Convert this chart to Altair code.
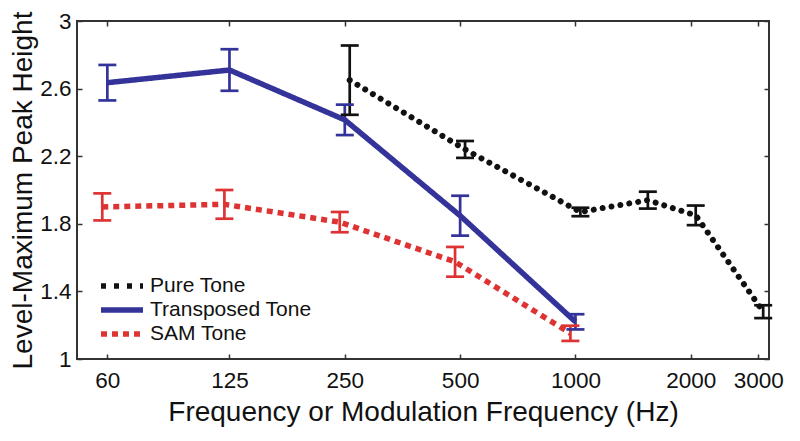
import altair as alt
import pandas as pd

series_names = ["Pure Tone", "Transposed Tone", "SAM Tone"]
series_colors = ["#111111", "#333399", "#dd3333"]

pure_freq = [250, 500, 1000, 1500, 2000, 3000]
pure_mean = [2.65, 2.24, 1.87, 1.94, 1.85, 1.28]
pure_err = [0.205, 0.05, 0.025, 0.05, 0.058, 0.038]

trans_freq = [60, 125, 250, 500, 1000]
trans_mean = [2.635, 2.71, 2.415, 1.848, 1.22]
trans_err = [0.105, 0.123, 0.09, 0.118, 0.045]

sam_freq = [60, 125, 250, 500, 1000]
sam_mean = [1.90, 1.915, 1.81, 1.575, 1.152]
sam_err = [0.08, 0.085, 0.06, 0.088, 0.045]

# small multiplicative horizontal nudge (log axis) separating the series' error bars
nudge = {"Pure Tone": 1.03, "Transposed Tone": 1.0, "SAM Tone": 0.97}

x_ticks = [60, 125, 250, 500, 1000, 2000, 3000]
y_ticks = [1, 1.4, 1.8, 2.2, 2.6, 3]

rows = []
for name, fr, mn, er in [
    ("Pure Tone", pure_freq, pure_mean, pure_err),
    ("Transposed Tone", trans_freq, trans_mean, trans_err),
    ("SAM Tone", sam_freq, sam_mean, sam_err),
]:
    hexc = series_colors[series_names.index(name)]
    for f, m, e in zip(fr, mn, er):
        rows.append({"series": name, "freq": f, "f": f * nudge[name],
                     "mean": m, "lo": m - e, "hi": m + e, "hex": hexc})
df = pd.DataFrame(rows)

FONT = "Liberation Sans"
TXT = "#111111"
FRAME = "#333333"

x_scale = alt.Scale(type="log", domain=[50, 3200], nice=False)
y_scale = alt.Scale(domain=[1, 3], nice=False, zero=False)
color_scale = alt.Scale(domain=series_names, range=series_colors)
dash_scale = alt.Scale(domain=series_names, range=[[5, 8], [1, 0], [6, 5]])

grid_kw = dict(grid=True, gridDash=[5, 3000], gridColor=FRAME, gridWidth=1.5,
               gridOpacity=1, ticks=False, domain=False)

bottom_axis = alt.Axis(values=x_ticks, labelExpr="format(datum.value, 'd')",
                       title="Frequency or Modulation Frequency (Hz)",
                       labelPadding=10, titlePadding=7, labelFontSize=22.5,
                       titleFontSize=28, **grid_kw)
left_axis = alt.Axis(values=y_ticks, format="~g", title="Level-Maximum Peak Height",
                     labelPadding=6, titlePadding=2, labelFontSize=22.5,
                     titleFontSize=28, **grid_kw)
top_axis = alt.Axis(orient="top", values=x_ticks, labels=False, title=None, **grid_kw)
right_axis = alt.Axis(orient="right", values=y_ticks, labels=False, title=None, **grid_kw)

legend_def = alt.Legend(title=None, orient="none", legendX=21, legendY=253,
                        symbolType="stroke", symbolSize=1764, symbolStrokeWidth=5.5,
                        labelFontSize=21, labelFont=FONT, labelColor=TXT,
                        labelLimit=400,
                        clipHeight=24, rowPadding=0, padding=0, labelOffset=4,
                        symbolOffset=0)

base = alt.Chart(df)

lines_black = base.transform_filter(alt.datum.series == "Pure Tone").mark_line(
    strokeWidth=6, strokeCap="round", strokeDash=[0.01, 9]
).encode(
    x=alt.X("f:Q", scale=x_scale, axis=bottom_axis),
    y=alt.Y("mean:Q", scale=y_scale, axis=left_axis),
    color=alt.Color("series:N", scale=color_scale, legend=legend_def),
)

lines_other = base.transform_filter(alt.datum.series != "Pure Tone").mark_line(
    strokeWidth=5.5, strokeCap="butt"
).encode(
    x=alt.X("f:Q", scale=x_scale, axis=None),
    y=alt.Y("mean:Q", scale=y_scale, axis=None),
    color=alt.Color("series:N", scale=color_scale, legend=legend_def),
    strokeDash=alt.StrokeDash("series:N", scale=dash_scale, legend=legend_def),
)

rules = base.mark_rule(strokeWidth=2.7).encode(
    x=alt.X("f:Q", scale=x_scale, axis=top_axis),
    y=alt.Y("lo:Q", scale=y_scale, axis=right_axis),
    y2="hi:Q",
    color=alt.Color("hex:N", scale=None),
)

caps_lo = base.mark_tick(orient="horizontal", size=18, thickness=2.7, opacity=1).encode(
    x=alt.X("f:Q", scale=x_scale, axis=None),
    y=alt.Y("lo:Q", scale=y_scale, axis=None),
    color=alt.Color("hex:N", scale=None),
)
caps_hi = base.mark_tick(orient="horizontal", size=18, thickness=2.7, opacity=1).encode(
    x=alt.X("f:Q", scale=x_scale, axis=None),
    y=alt.Y("hi:Q", scale=y_scale, axis=None),
    color=alt.Color("hex:N", scale=None),
)

chart = alt.layer(lines_other, lines_black, rules, caps_lo, caps_hi).resolve_axis(
    x="independent", y="independent"
).properties(
    width=692, height=338,
    autosize=alt.AutoSizeParams(type="none"),
    padding={"left": 69, "top": 13, "right": 23, "bottom": 74},
    background="white",
).configure_view(
    stroke=FRAME, strokeWidth=2
).configure_axis(
    labelFont=FONT, titleFont=FONT, labelColor=TXT, titleColor=TXT,
    titleFontWeight="normal",
)

chart.save("out.html", embed_options={"renderer": "svg", "actions": False})
